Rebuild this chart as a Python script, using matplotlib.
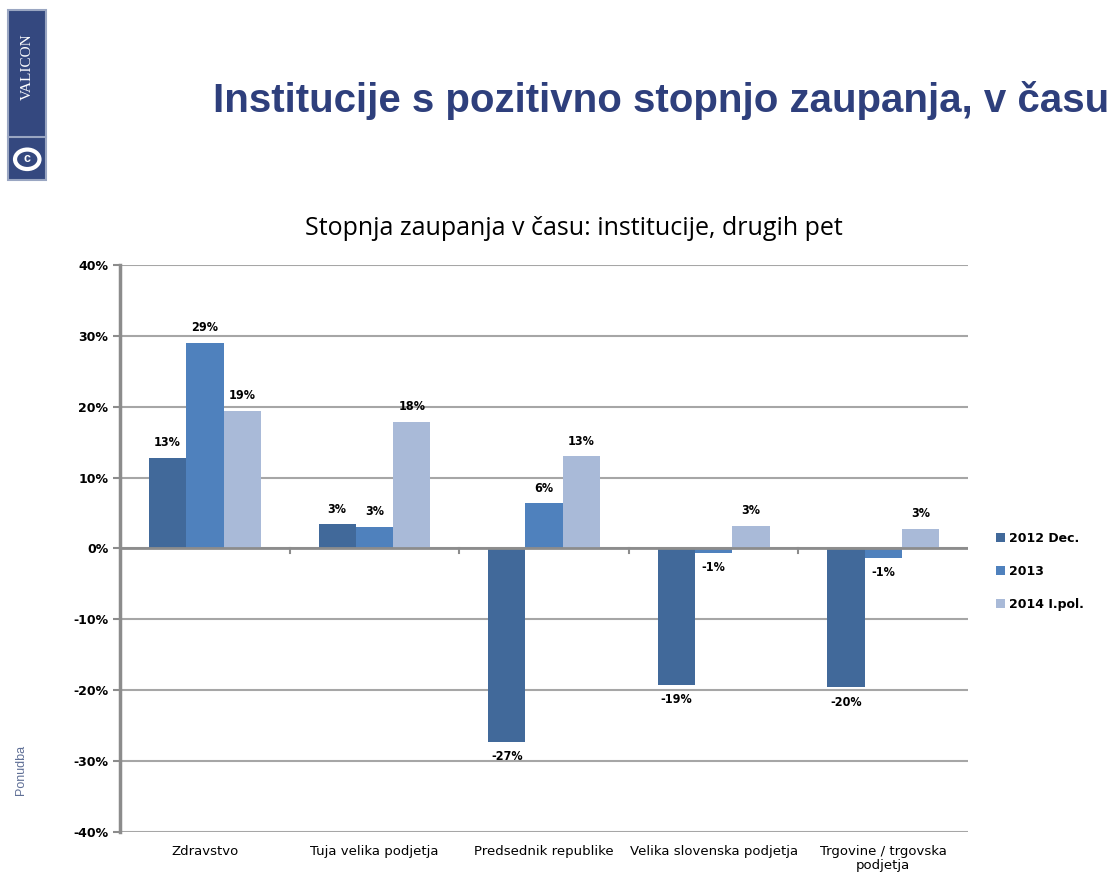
import numpy as np
import matplotlib.pyplot as plt
from matplotlib.patches import Rectangle, Circle

categories = ['Zdravstvo', 'Tuja velika podjetja', 'Predsednik republike',
              'Velika slovenska podjetja', 'Trgovine / trgovska\npodjetja']
series = ['2012 Dec.', '2013', '2014 I.pol.']
v2012 = [12.8, 3.4, -27.3, -19.2, -19.6]
v2013 = [29.0, 3.1, 6.4, -0.6, -1.3]
v2014 = [19.4, 17.9, 13.0, 3.2, 2.8]
yticks = [-40, -30, -20, -10, 0, 10, 20, 30, 40]

colors = ['#41699A', '#4F81BD', '#A9BAD8']
narrow = ['DejaVu Sans']

fig = plt.figure(figsize=(11.12, 8.85), dpi=100)
ax = fig.add_axes([0.108, 0.0599, 0.7625, 0.6407])

x = np.arange(len(categories))
w = 0.22
for k, (vals, c, name) in enumerate(zip([v2012, v2013, v2014], colors, series)):
    pos = x + (k - 1) * w
    ax.bar(pos, vals, width=w, color=c, label=name, zorder=3)
    for p, v in zip(pos, vals):
        txt = '%d%%' % round(v)
        if v >= 0:
            ax.text(p, v + 1.2, txt, ha='center', va='bottom', fontsize=9,
                    fontweight='bold', family=narrow, fontstretch='condensed')
        else:
            ax.text(p, v - 1.2, txt, ha='center', va='top', fontsize=9,
                    fontweight='bold', family=narrow, fontstretch='condensed')

ax.set_xlim(-0.5, len(categories) - 0.5)
ax.set_ylim(-40, 40)
ax.set_yticks(yticks)
ax.set_yticklabels(['%d%%' % t for t in yticks], fontsize=9, fontweight='bold',
                   family=narrow)
ax.yaxis.grid(True, color='#a6a6a6', linewidth=1.5, zorder=0)
ax.set_xticks([])
ax.tick_params(axis='y', length=5, color='#8c8c8c', width=1.5)
for s in ['top', 'right', 'bottom']:
    ax.spines[s].set_visible(False)
ax.spines['left'].set_color('#8c8c8c')
ax.spines['left'].set_linewidth(2.5)
ax.axhline(0, color='#8c8c8c', linewidth=2, zorder=4)
for b in np.arange(0.5, len(categories) - 0.5, 1):
    ax.plot([b, b], [0, -0.7], color='#8c8c8c', linewidth=1.5, zorder=4)
for xi, cat in zip(x, categories):
    ax.text(xi, -41.8, cat, ha='center', va='top', fontsize=9.5, family=narrow,
            linespacing=1.1)

ax.legend(loc='center left', bbox_to_anchor=(1.02, 0.46), frameon=False,
          prop={'family': narrow, 'weight': 'bold', 'size': 9},
          handlelength=0.7, handleheight=0.7, labelspacing=1.6, handletextpad=0.3)

fig.text(0.5165, 0.742, 'Stopnja zaupanja v času: institucije, drugih pet',
         ha='center', va='center', fontsize=18, family=['Open Sans', 'DejaVu Sans'])
fig.text(0.997, 0.887, 'Institucije s pozitivno stopnjo zaupanja, v času',
         ha='right', va='center', fontsize=29, fontweight='bold', color='#2E3F7C',
         family=['Liberation Sans', 'DejaVu Sans'])

# logo strip
fig.patches.append(Rectangle((0.0072, 0.797), 0.034, 0.192, transform=fig.transFigure,
                             facecolor='#34487F', edgecolor='#9aa6c2', linewidth=1.5))
fig.text(0.0245, 0.925, 'VALICON', rotation=90, ha='center', va='center',
         color='white', fontsize=11, family=['Liberation Serif', 'DejaVu Serif'])
fig.patches.append(Circle((0.0245, 0.82), 0.011, transform=fig.transFigure,
                          facecolor='none', edgecolor='white', linewidth=3))
fig.text(0.0245, 0.82, 'c', ha='center', va='center', color='white',
         fontsize=9, fontweight='bold', family=['Liberation Sans', 'DejaVu Sans'])
fig.lines.append(plt.Line2D([0.0072, 0.0412], [0.845, 0.845], transform=fig.transFigure,
                            color='#9aa6c2', linewidth=1.5))
fig.text(0.019, 0.13, 'Ponudba', rotation=90, ha='center', va='center',
         color='#5f6f96', fontsize=9, family=['Liberation Sans', 'DejaVu Sans'])

fig.savefig('out.png', dpi=100)
